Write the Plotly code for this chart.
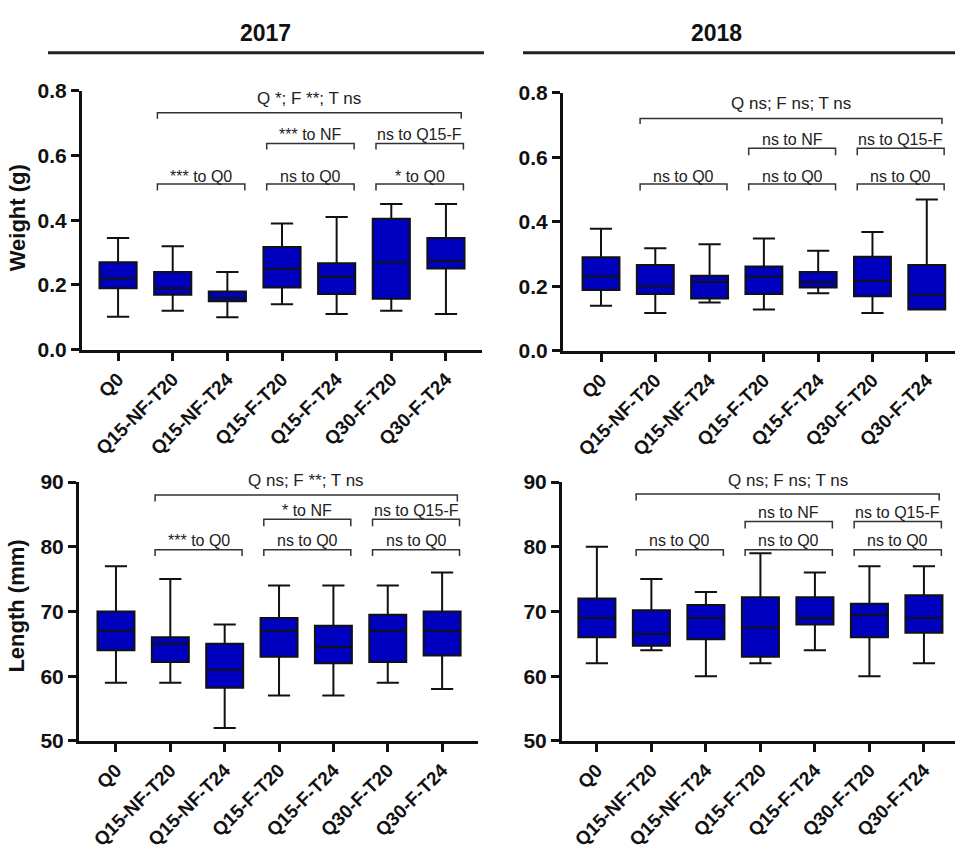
import plotly.graph_objects as go

# ---------------- data ----------------
categories = ["Q0", "Q15-NF-T20", "Q15-NF-T24", "Q15-F-T20", "Q15-F-T24", "Q30-F-T20", "Q30-F-T24"]

w17_low = [0.102, 0.12, 0.10, 0.14, 0.11, 0.12, 0.11]
w17_q1 = [0.19, 0.17, 0.15, 0.192, 0.172, 0.157, 0.251]
w17_med = [0.22, 0.19, 0.16, 0.25, 0.225, 0.27, 0.275]
w17_q3 = [0.27, 0.24, 0.18, 0.317, 0.267, 0.405, 0.345]
w17_high = [0.345, 0.32, 0.24, 0.39, 0.41, 0.45, 0.45]

w18_low = [0.139, 0.117, 0.149, 0.128, 0.178, 0.117, 0.128]
w18_q1 = [0.188, 0.176, 0.162, 0.176, 0.196, 0.169, 0.128]
w18_med = [0.23, 0.20, 0.213, 0.229, 0.213, 0.217, 0.174]
w18_q3 = [0.29, 0.266, 0.232, 0.261, 0.244, 0.291, 0.266]
w18_high = [0.378, 0.318, 0.33, 0.348, 0.31, 0.368, 0.469]

l17_low = [59, 59, 52, 57, 57, 59, 58]
l17_q1 = [64, 62.2, 58.2, 63, 62, 62.2, 63.2]
l17_med = [67, 65, 61, 67, 64.5, 67, 67]
l17_q3 = [70, 66, 65, 69, 67.8, 69.5, 70]
l17_high = [77, 75, 68, 74, 74, 74, 76]

l18_low = [62, 64, 60, 62, 64, 60, 62]
l18_q1 = [66, 64.7, 65.7, 63, 68, 66, 66.7]
l18_med = [69, 66.5, 69, 67.5, 69, 69.5, 69]
l18_q3 = [72, 70.2, 71, 72.2, 72.2, 71.2, 72.5]
l18_high = [80, 75, 73, 79, 76, 77, 77]

year_labels = ["2017", "2018"]
y_titles = ["Weight (g)", "Length (mm)"]

w17_tests = ["Q *; F **; T ns", "*** to NF", "ns to Q15-F", "*** to Q0", "ns to Q0", "* to Q0"]
w18_tests = ["Q ns; F ns; T ns", "ns to NF", "ns to Q15-F", "ns to Q0", "ns to Q0", "ns to Q0"]
l17_tests = ["Q ns; F **; T ns", "* to NF", "ns to Q15-F", "*** to Q0", "ns to Q0", "ns to Q0"]
l18_tests = ["Q ns; F ns; T ns", "ns to NF", "ns to Q15-F", "ns to Q0", "ns to Q0", "ns to Q0"]

# ---------------- layout helpers ----------------
W, H = 955, 856
FONT = "Liberation Sans, Arial, Helvetica, sans-serif"
BOX_FILL = "#0000BF"
INK = "#111111"

def fx(px):
    return px / W

def fy(px):
    return 1 - px / H

# panel geometry
panels = [
    dict(stats=(w17_low, w17_q1, w17_med, w17_q3, w17_high), tests=w17_tests,
         xpx=(82, 482), ypx=(81, 347), xr=[-0.66, 6.66], yr=[0, 0.8], dtick=0.2, fmt=".1f",
         levels=[(0.732, 0.018, 0.777), (0.637, 0.018, 0.665), (0.512, 0.02, 0.535)]),
    dict(stats=(w18_low, w18_q1, w18_med, w18_q3, w18_high), tests=w18_tests,
         xpx=(563, 955), ypx=(83, 348), xr=[-0.70, 6.52], yr=[0, 0.8], dtick=0.2, fmt=".1f",
         levels=[(0.72, 0.017, 0.768), (0.628, 0.022, 0.655), (0.517, 0.02, 0.54)]),
    dict(stats=(l17_low, l17_q1, l17_med, l17_q3, l17_high), tests=l17_tests,
         xpx=(79, 478), ypx=(483, 749), xr=[-0.68, 6.66], yr=[50, 90], dtick=10, fmt="d",
         levels=[(88.0, 1.0, 90.3), (84.25, 1.1, 85.55), (79.55, 1.0, 81.0)]),
    dict(stats=(l18_low, l18_q1, l18_med, l18_q3, l18_high), tests=l18_tests,
         xpx=(562, 955), ypx=(483, 749), xr=[-0.64, 6.57], yr=[50, 90], dtick=10, fmt="d",
         levels=[(88.15, 1.0, 90.3), (83.9, 1.1, 85.3), (79.55, 1.0, 81.0)]),
]

# bracket spans as (first category index, last category index)
bracket_groups = [(1, 6), (3, 4), (5, 6), (1, 2), (3, 4), (5, 6)]
bracket_level = [0, 1, 1, 2, 2, 2]

fig = go.Figure()
shapes = []
annotations = []

for i, p in enumerate(panels):
    n = "" if i == 0 else str(i + 1)
    xa, ya = "x" + n, "y" + n
    low, q1, med, q3, high = p["stats"]
    fig.add_trace(go.Box(
        x=categories, q1=q1, median=med, q3=q3, lowerfence=low, upperfence=high,
        xaxis=xa, yaxis=ya, width=0.68, whiskerwidth=0.6,
        fillcolor=BOX_FILL, line=dict(color=INK, width=2),
        boxpoints=False, showlegend=False, hoverinfo="y",
    ))
    axis_common = dict(
        showline=True, linecolor=INK, linewidth=3, showgrid=False, zeroline=False,
        ticks="outside", ticklen=8, tickwidth=3, tickcolor=INK, mirror=False,
    )
    ybot, ytop = fy(p["ypx"][1]), fy(p["ypx"][0])
    fig.layout["xaxis" + n] = dict(
        axis_common, domain=[fx(p["xpx"][0]), min(fx(p["xpx"][1]), 1.0)],
        anchor=ya, type="category", range=p["xr"], categoryorder="array",
        categoryarray=categories, tickangle=-45,
        tickfont=dict(family=FONT, size=19, color=INK, weight="bold"),
    )
    fig.layout["yaxis" + n] = dict(
        axis_common, domain=[ybot, ytop],
        anchor=xa, range=p["yr"], dtick=p["dtick"], tick0=p["yr"][0], tickformat=p["fmt"],
        tickfont=dict(family=FONT, size=21, color=INK, weight="bold"),
    )
    y0, y1 = p["yr"]

    def to_paper(v):
        return ybot + (v - y0) / (y1 - y0) * (ytop - ybot)

    # significance brackets
    for (a, b), lev, txt in zip(bracket_groups, bracket_level, p["tests"]):
        yline, drop, ytxt = p["levels"][lev]
        x0 = a - 0.28
        x1 = b + 0.32 if lev else b + 0.28
        shapes.append(dict(
            type="path", xref=xa, yref=ya,
            path=f"M {x0},{yline - drop} L {x0},{yline} L {x1},{yline} L {x1},{yline - drop}",
            line=dict(color="#333333", width=1.5),
        ))
        annotations.append(dict(
            x=(x0 + x1) / 2, y=to_paper(ytxt), xref=xa, yref="paper", text=txt, showarrow=False,
            xanchor="center", yanchor="middle",
            font=dict(family=FONT, size=17 if lev == 0 else 16, color="#222222"),
        ))

# column titles with rules
for txt, cx, (l, r) in zip(year_labels, [265, 716], [(48, 484), (523, 955)]):
    annotations.append(dict(
        x=fx(cx), y=fy(22), xref="paper", yref="paper", text=txt, showarrow=False,
        xanchor="center", yanchor="middle",
        font=dict(family=FONT, size=23, color=INK, weight="bold"),
    ))
    shapes.append(dict(type="line", xref="paper", yref="paper",
                       x0=fx(l), x1=fx(r), y0=fy(42), y1=fy(42),
                       line=dict(color="#222222", width=3)))

# y axis titles
for txt, cy in zip(y_titles, [212, 611]):
    annotations.append(dict(
        x=fx(17), y=fy(cy), xref="paper", yref="paper", text=txt, showarrow=False,
        textangle=-90, xanchor="center", yanchor="middle",
        font=dict(family=FONT, size=22, color=INK, weight="bold"),
    ))

fig.update_layout(
    width=W, height=H, margin=dict(l=0, r=0, t=0, b=0),
    paper_bgcolor="white", plot_bgcolor="white",
    shapes=shapes, annotations=annotations, showlegend=False,
    font=dict(family=FONT, color=INK),
)

fig.write_html("out.html")
